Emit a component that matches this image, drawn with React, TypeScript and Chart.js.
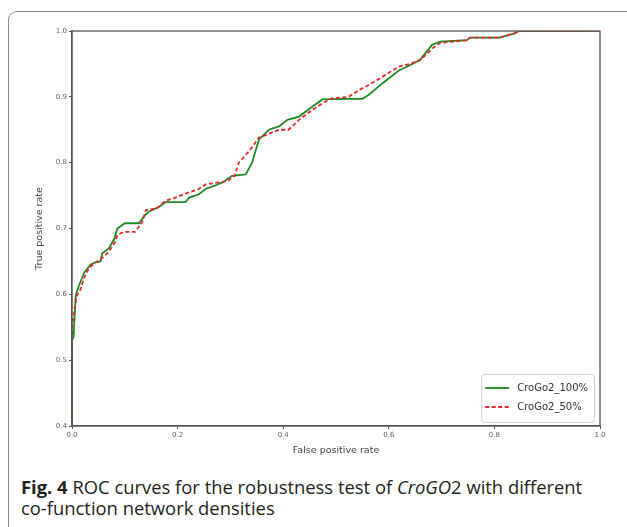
import React, { useEffect, useRef } from 'react';
import { Chart, registerables } from 'chart.js';

Chart.register(...registerables);

// ---- data ----
const seriesLabels = ['CroGo2_100%', 'CroGo2_50%'];

const fpr100 = [0, 0, 0.003, 0.007, 0.013, 0.023, 0.035, 0.042, 0.054, 0.057, 0.07, 0.08, 0.086, 0.1, 0.127, 0.136, 0.146, 0.165, 0.177, 0.215, 0.222, 0.24, 0.253, 0.27, 0.285, 0.303, 0.329, 0.341, 0.354, 0.373, 0.392, 0.408, 0.43, 0.455, 0.474, 0.524, 0.55, 0.562, 0.587, 0.619, 0.64, 0.659, 0.669, 0.682, 0.697, 0.748, 0.754, 0.811, 0.818, 0.837, 0.847, 1.0];
const tpr100 = [0.4, 0.53, 0.535, 0.598, 0.613, 0.633, 0.645, 0.648, 0.65, 0.662, 0.67, 0.684, 0.7, 0.708, 0.708, 0.718, 0.726, 0.733, 0.74, 0.74, 0.747, 0.752, 0.76, 0.765, 0.77, 0.78, 0.782, 0.8, 0.835, 0.85, 0.855, 0.865, 0.87, 0.885, 0.896, 0.897, 0.897, 0.903, 0.92, 0.94, 0.948, 0.956, 0.966, 0.979, 0.984, 0.986, 0.99, 0.99, 0.992, 0.996, 1.0, 1.0];

const fpr50 = [0, 0, 0.003, 0.005, 0.009, 0.015, 0.023, 0.032, 0.044, 0.057, 0.07, 0.082, 0.086, 0.098, 0.12, 0.133, 0.14, 0.16, 0.177, 0.196, 0.215, 0.24, 0.253, 0.278, 0.295, 0.308, 0.316, 0.335, 0.354, 0.392, 0.41, 0.43, 0.455, 0.474, 0.493, 0.524, 0.543, 0.562, 0.587, 0.619, 0.64, 0.659, 0.669, 0.685, 0.697, 0.748, 0.754, 0.811, 0.818, 0.837, 0.847, 1.0];
const tpr50 = [0.4, 0.55, 0.565, 0.58, 0.598, 0.605, 0.625, 0.64, 0.648, 0.655, 0.665, 0.68, 0.69, 0.695, 0.695, 0.71, 0.728, 0.73, 0.742, 0.747, 0.753, 0.76, 0.767, 0.77, 0.772, 0.78, 0.8, 0.817, 0.838, 0.85, 0.85, 0.865, 0.88, 0.89, 0.898, 0.9, 0.91, 0.918, 0.93, 0.946, 0.95, 0.956, 0.963, 0.975, 0.982, 0.986, 0.99, 0.99, 0.992, 0.996, 1.0, 1.0];

const xTicks = [0, 0.2, 0.4, 0.6, 0.8, 1.0];
const yTicks = [0.4, 0.5, 0.6, 0.7, 0.8, 0.9, 1.0];
const xTitle = 'False positive rate';
const yTitle = 'True positive rate';

const TICK_FONT = { family: 'DejaVu Sans', size: 7 };
const TITLE_FONT = { family: 'DejaVu Sans', size: 9.5 };
const AXIS_COLOR = '#555';

const frameBoxPlugin = {
  id: 'frameBox',
  afterDatasetsDraw(chart: any) {
    const { ctx, chartArea: a } = chart;
    ctx.save();
    ctx.strokeStyle = AXIS_COLOR;
    ctx.lineWidth = 1.3;
    ctx.strokeRect(a.left, a.top, a.right - a.left, a.bottom - a.top);
    ctx.restore();
  },
};

const insideLegendPlugin = {
  id: 'insideLegend',
  afterDraw(chart: any) {
    const { ctx, chartArea: a } = chart;
    const ds = chart.data.datasets;
    ctx.save();
    ctx.font = '10px "DejaVu Sans"';
    const textW = Math.max(...ds.map((d: any) => ctx.measureText(d.label).width));
    const sampleW = 24;
    const padL = 4;
    const gap = 8;
    const padR = 6;
    const rowH = 19;
    const padV = 6;
    const w = padL + sampleW + gap + textW + padR;
    const h = padV * 2 + rowH * ds.length - 2;
    const x0 = a.right - 6 - w;
    const y0 = a.bottom - 4 - h;
    ctx.fillStyle = 'rgba(255,255,255,0.85)';
    ctx.strokeStyle = '#d0d0d0';
    ctx.lineWidth = 1;
    ctx.beginPath();
    (ctx as any).roundRect ? (ctx as any).roundRect(x0 + 0.5, y0 + 0.5, w, h, 3) : ctx.rect(x0 + 0.5, y0 + 0.5, w, h);
    ctx.fill();
    ctx.stroke();
    ds.forEach((d: any, i: number) => {
      const cy = y0 + padV + rowH * i + 8;
      ctx.strokeStyle = d.borderColor;
      ctx.lineWidth = d.borderWidth;
      ctx.setLineDash(d.borderDash || []);
      ctx.beginPath();
      ctx.moveTo(x0 + padL, cy);
      ctx.lineTo(x0 + padL + sampleW, cy);
      ctx.stroke();
      ctx.setLineDash([]);
      ctx.fillStyle = '#333';
      ctx.textBaseline = 'middle';
      ctx.textAlign = 'left';
      ctx.fillText(d.label, x0 + padL + sampleW + gap, cy);
    });
    ctx.restore();
  },
};

export default function App() {
  const canvasRef = useRef<HTMLCanvasElement | null>(null);

  useEffect(() => {
    if (!canvasRef.current) return;
    const chart = new Chart(canvasRef.current, {
      type: 'line',
      data: {
        datasets: [
          {
            label: seriesLabels[0],
            data: fpr100.map((x, i) => ({ x, y: tpr100[i] })),
            borderColor: '#1d8a22',
            borderWidth: 1.8,
            pointRadius: 0,
            fill: false,
            tension: 0,
            order: 2,
          },
          {
            label: seriesLabels[1],
            data: fpr50.map((x, i) => ({ x, y: tpr50[i] })),
            borderColor: '#e8262b',
            borderWidth: 1.8,
            borderDash: [4, 2.5],
            pointRadius: 0,
            fill: false,
            tension: 0,
            order: 1,
          },
        ],
      },
      options: {
        animation: false,
        responsive: false,
        maintainAspectRatio: false,
        layout: { padding: { left: 0, top: 31, right: 27, bottom: 0 } },
        plugins: { legend: { display: false }, tooltip: { enabled: false } },
        scales: {
          x: {
            type: 'linear',
            min: 0,
            max: 1,
            afterBuildTicks: (s: any) => {
              s.ticks = xTicks.map((v) => ({ value: v }));
            },
            afterFit: (s: any) => {
              s.height = 44;
            },
            ticks: {
              autoSkip: false,
              maxRotation: 0,
              padding: 2,
              color: '#666',
              font: TICK_FONT,
              callback: (v: any) => Number(v).toFixed(1),
            },
            grid: { drawOnChartArea: false, drawTicks: true, tickLength: 3, color: AXIS_COLOR },
            border: { display: true, color: AXIS_COLOR, width: 1.3 },
            title: { display: true, text: xTitle, color: '#444', font: TITLE_FONT, padding: { top: 0, bottom: 14 } },
          },
          y: {
            type: 'linear',
            min: 0.4,
            max: 1.0,
            afterBuildTicks: (s: any) => {
              s.ticks = yTicks.map((v) => ({ value: v }));
            },
            afterFit: (s: any) => {
              s.width = 72;
            },
            ticks: {
              autoSkip: false,
              padding: 2,
              color: '#666',
              font: TICK_FONT,
              callback: (v: any) => Number(v).toFixed(1),
            },
            grid: { drawOnChartArea: false, drawTicks: true, tickLength: 3, color: AXIS_COLOR },
            border: { display: true, color: AXIS_COLOR, width: 1.3 },
            title: { display: true, text: yTitle, color: '#444', font: TITLE_FONT, padding: { top: 34, bottom: 0 } },
          },
        },
      },
      plugins: [frameBoxPlugin, insideLegendPlugin],
    } as any);
    return () => chart.destroy();
  }, []);

  return (
    <div style={{ position: 'absolute', left: 0, top: 0, width: 627, height: 527, overflow: 'hidden', background: '#fff' }}>
      <div
        style={{
          position: 'absolute',
          left: 8,
          top: 11,
          width: 660,
          height: 560,
          borderLeft: '1px solid #8a8a8a',
          borderTop: '1px solid #8a8a8a',
          borderTopLeftRadius: 9,
        }}
      />
      <canvas
        ref={canvasRef}
        width={627}
        height={470}
        style={{ position: 'absolute', left: 0, top: 0, width: 627, height: 470 }}
      />
      <div
        style={{
          position: 'absolute',
          left: 21,
          top: 476,
          fontFamily: '"Open Sans", "Noto Sans", sans-serif',
          fontSize: 18.4,
          lineHeight: '21px',
          color: '#231f20',
          whiteSpace: 'nowrap',
        }}
      >
        <span style={{ fontWeight: 700 }}>Fig. 4</span> ROC curves for the robustness test of <i>CroGO</i>2 with different
        <br />
        co-function network densities
      </div>
    </div>
  );
}
